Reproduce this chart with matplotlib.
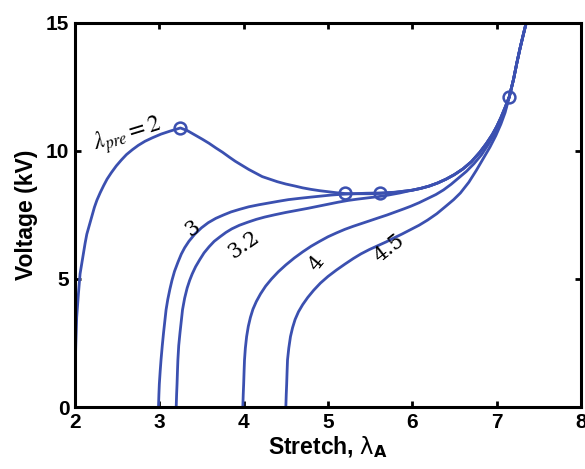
import matplotlib
matplotlib.use('Agg')
import matplotlib.pyplot as plt

# color of all curves
lineColor = '#3b50b0'

# common upper branch where all curves come together
upperX = [6.0, 6.1, 6.2, 6.3, 6.4, 6.5, 6.6, 6.7, 6.8, 6.88, 6.95, 7.0, 7.05, 7.1,
          7.15, 7.2, 7.24, 7.28, 7.32, 7.35]
upperV = [8.47, 8.54, 8.63, 8.75, 8.9, 9.08, 9.3, 9.58, 9.95, 10.3, 10.65, 10.95, 11.3, 11.7,
          12.12, 12.8, 13.45, 14.05, 14.6, 15.0]

# lambda_pre = 2
pre2X = [2.0, 2.005, 2.01, 2.015, 2.02, 2.03, 2.04, 2.05, 2.06, 2.08, 2.1, 2.12, 2.14,
         2.17, 2.2, 2.23, 2.26, 2.3, 2.34, 2.38, 2.43, 2.49, 2.55, 2.61, 2.68, 2.75,
         2.83, 2.92, 3.02, 3.13, 3.25, 3.33, 3.42, 3.51, 3.59, 3.67, 3.75, 3.83, 3.9,
         3.98, 4.06, 4.14, 4.22, 4.31, 4.4, 4.5, 4.61, 4.7, 4.8, 4.9, 5.0, 5.1, 5.2,
         5.3, 5.4, 5.5, 5.62, 5.71, 5.8, 5.9]
pre2V = [1.3, 1.9, 2.5, 3.0, 3.5, 3.95, 4.4, 4.8, 5.2, 5.6, 6.0, 6.4, 6.75,
         7.1, 7.45, 7.8, 8.08, 8.38, 8.65, 8.9, 9.15, 9.42, 9.65, 9.86, 10.05, 10.22,
         10.38, 10.52, 10.66, 10.78, 10.9, 10.8, 10.63, 10.46, 10.3, 10.12, 9.95, 9.76, 9.6,
         9.44, 9.28, 9.14, 9.0, 8.9, 8.8, 8.71, 8.63, 8.56, 8.5, 8.45, 8.41, 8.37, 8.34,
         8.33, 8.33, 8.33, 8.34, 8.36, 8.39, 8.43]

# lambda_pre = 3
pre3X = [2.99, 2.995, 3.0, 3.01, 3.02, 3.035, 3.05, 3.065, 3.08, 3.1, 3.125, 3.15,
         3.18, 3.22, 3.26, 3.3, 3.35, 3.42, 3.5, 3.58, 3.67, 3.76, 3.85, 3.95, 4.06,
         4.18, 4.3, 4.42, 4.53, 4.66, 4.8, 4.92, 5.04, 5.17, 5.3, 5.45, 5.6, 5.8, 5.9]
pre3V = [0.0, 0.5, 0.9, 1.4, 1.84, 2.4, 2.9, 3.35, 3.8, 4.2, 4.6, 4.95,
         5.3, 5.65, 5.97, 6.22, 6.47, 6.75, 7.0, 7.2, 7.37, 7.5, 7.62, 7.72, 7.82,
         7.9, 7.97, 8.04, 8.1, 8.15, 8.2, 8.24, 8.28, 8.31, 8.33, 8.35, 8.36, 8.39, 8.43]

# lambda_pre = 3.2
pre32X = [3.2, 3.205, 3.21, 3.215, 3.22, 3.23, 3.245, 3.26, 3.275, 3.3, 3.33, 3.36,
          3.39, 3.43, 3.48, 3.53, 3.59, 3.65, 3.72, 3.79, 3.86, 3.95, 4.05, 4.15, 4.25,
          4.37, 4.5, 4.63, 4.76, 4.88, 5.0, 5.12, 5.24, 5.35, 5.45, 5.55, 5.65, 5.75,
          5.85, 5.93]
pre32V = [0.0, 0.5, 0.9, 1.4, 1.84, 2.4, 2.9, 3.35, 3.8, 4.25, 4.65, 4.95,
          5.2, 5.48, 5.76, 6.02, 6.26, 6.47, 6.65, 6.82, 6.96, 7.1, 7.22, 7.33, 7.42,
          7.51, 7.6, 7.68, 7.76, 7.84, 7.92, 8.0, 8.07, 8.12, 8.16, 8.2, 8.24, 8.3,
          8.36, 8.42]

# lambda_pre = 4
pre4X = [3.99, 3.995, 4.0, 4.005, 4.01, 4.02, 4.035, 4.055, 4.08, 4.11, 4.15, 4.2,
         4.26, 4.33, 4.41, 4.5, 4.6, 4.7, 4.8, 4.9, 5.0, 5.1, 5.2, 5.3, 5.4, 5.5,
         5.59, 5.7, 5.8, 5.9, 5.98, 6.08, 6.18, 6.28, 6.37, 6.46, 6.55, 6.64, 6.73,
         6.82, 6.9, 6.98, 7.05, 7.1]
pre4V = [0.0, 0.5, 0.9, 1.4, 1.84, 2.3, 2.75, 3.15, 3.5, 3.82, 4.12, 4.42,
         4.72, 5.0, 5.28, 5.55, 5.82, 6.06, 6.28, 6.47, 6.65, 6.8, 6.94, 7.06, 7.17, 7.28,
         7.38, 7.5, 7.62, 7.74, 7.84, 7.98, 8.14, 8.3, 8.48, 8.7, 8.95, 9.2, 9.5,
         9.85, 10.25, 10.7, 11.2, 11.6]

# lambda_pre = 4.5
pre45X = [4.5, 4.505, 4.51, 4.515, 4.52, 4.535, 4.555, 4.58, 4.61, 4.65, 4.7, 4.76,
          4.83, 4.91, 5.0, 5.1, 5.2, 5.3, 5.39, 5.49, 5.59, 5.69, 5.78, 5.88, 5.98,
          6.08, 6.18, 6.29, 6.4, 6.49, 6.57, 6.67, 6.76, 6.84, 6.92, 6.99, 7.05, 7.1]
pre45V = [0.0, 0.5, 0.9, 1.4, 1.84, 2.3, 2.75, 3.1, 3.42, 3.72, 4.0, 4.28,
          4.56, 4.84, 5.1, 5.35, 5.58, 5.8, 5.98, 6.15, 6.3, 6.45, 6.6, 6.76, 6.93,
          7.1, 7.3, 7.55, 7.85, 8.1, 8.36, 8.78, 9.25, 9.7, 10.15, 10.6, 11.05, 11.5]

# marked points (circles)
markX = [3.25, 5.2, 5.62, 7.15]
markV = [10.9, 8.34, 8.34, 12.12]

# curve labels
labelText = [r'$\lambda_{pre} = 2$', '3', '3.2', '4', '4.5']
labelX = [2.62, 3.39, 4.0, 4.86, 5.73]
labelV = [10.62, 6.97, 6.33, 5.61, 6.2]
labelRot = [17, 35, 35, 50, 38]


fig = plt.figure(figsize=(5.85, 4.69), dpi=100)
ax = fig.add_axes([75 / 585, 62 / 469, 506 / 585, 384 / 469])

# 2, 3 and 3.2 merge with the branch before the lower circles
for cx, cv in [(pre2X, pre2V), (pre3X, pre3V), (pre32X, pre32V)]:
    ax.plot(cx + upperX, cv + upperV, c=lineColor, lw=2)

# 4 and 4.5 join it around the circle near 7.15
ax.plot(pre4X + upperX[14:], pre4V + upperV[14:], c=lineColor, lw=2)
ax.plot(pre45X + upperX[14:], pre45V + upperV[14:], c=lineColor, lw=2)

ax.plot(markX, markV, 'o', mfc='none', mec=lineColor, mew=1.8, ms=8.5)

for i, t in enumerate(labelText):
    if i == 0:
        ax.text(labelX[i], labelV[i], t, fontsize=17, rotation=labelRot[i],
                ha='center', va='center', math_fontfamily='stix')
    else:
        ax.text(labelX[i], labelV[i], t, fontsize=15, rotation=labelRot[i],
                ha='center', va='center', family='DejaVu Serif')

ax.set_xlim(2, 8)
ax.set_ylim(0, 15)
ax.set_xticks([2, 3, 4, 5, 6, 7, 8])
ax.set_yticks([0, 5, 10, 15])

for s in ax.spines.values():
    s.set_linewidth(2.2)

ax.tick_params(direction='in', length=4, width=2, top=True, right=True, pad=4)
for lab in ax.get_xticklabels() + ax.get_yticklabels():
    lab.set_fontsize(15)
    lab.set_fontweight('bold')
    lab.set_family('Liberation Sans')

ax.set_xlabel(r'Stretch, $\mathrm{\lambda}_{\mathbf{A}}$', fontsize=16.5, fontweight='bold',
              family='Liberation Sans', labelpad=2)
ax.set_ylabel('Voltage (kV)', fontsize=16.5, fontweight='bold',
              family='Liberation Sans', labelpad=6)

fig.savefig('out.png', dpi=100)
